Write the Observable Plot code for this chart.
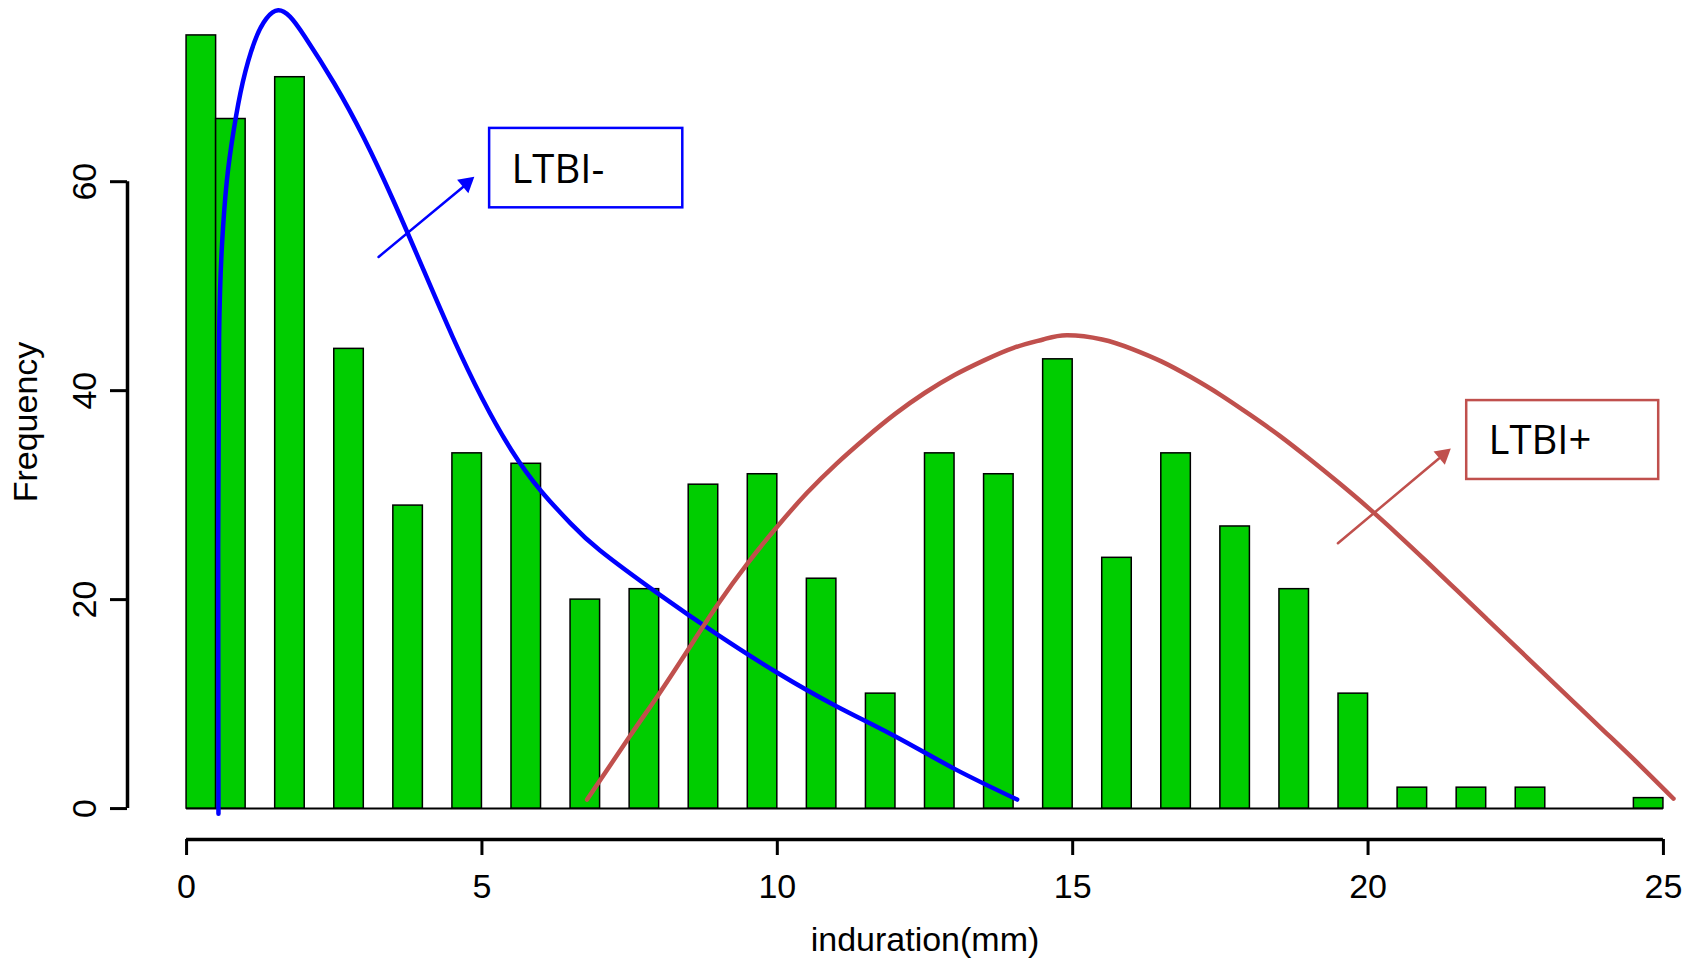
<!DOCTYPE html>
<html>
<head>
<meta charset="utf-8">
<script src="https://cdn.jsdelivr.net/npm/d3@7"></script>
<script src="https://cdn.jsdelivr.net/npm/@observablehq/plot@0.6"></script>
<style>
  html, body { margin: 0; padding: 0; background: #fff; }
</style>
</head>
<body>
<div id="chart"></div>
<script>
// Histogram: bins of width 0.5 mm from 0 to 25
const binWidth = 0.5;
const counts = [
  74, 66, 0, 70, 0, 44, 0, 29, 0, 34,
  0, 33, 0, 20, 0, 21, 0, 31, 0, 32,
  0, 22, 0, 11, 0, 34, 0, 32, 0, 43,
  0, 24, 0, 34, 0, 27, 0, 21, 0, 11,
  0, 2, 0, 2, 0, 2, 0, 0, 0, 1
];

// Fitted density curves (in frequency units)
const ltbiNegX = [0.54, 0.535, 0.55, 0.6, 0.68, 0.8, 0.95, 1.15, 1.35, 1.55, 1.75, 2.0, 2.5, 3.0, 3.5, 4.0, 4.5, 5.0, 5.5, 6.0, 6.5, 7.0, 8.0, 9.0, 10.0, 11.0, 12.0, 13.0, 14.06];
const ltbiNegY = [-0.5, 25, 45, 54, 60, 65, 69.5, 73.4, 75.6, 76.4, 75.8, 73.9, 69.4, 64.2, 58.2, 51.7, 45.2, 39.3, 34.3, 30.4, 27.3, 24.7, 20.5, 16.6, 13.0, 9.8, 6.9, 3.8, 0.86];
const ltbiPosX = [6.78, 7.5, 8.0, 8.5, 9.0, 9.5, 10.0, 10.5, 11.0, 11.5, 12.0, 12.5, 13.0, 13.5, 14.0, 14.5, 14.9, 15.5, 16.0, 16.5, 17.0, 17.5, 18.0, 18.5, 19.0, 19.5, 20.0, 20.5, 21.0, 21.5, 22.0, 22.5, 23.0, 23.5, 24.0, 24.5, 25.17];
const ltbiPosY = [0.86, 6.9, 11.0, 15.3, 19.6, 23.5, 27.0, 30.2, 33.0, 35.5, 37.8, 39.8, 41.5, 42.9, 44.1, 44.9, 45.3, 44.9, 44.0, 42.8, 41.3, 39.6, 37.7, 35.7, 33.5, 31.2, 28.8, 26.25, 23.6, 20.9, 18.2, 15.5, 12.8, 10.1, 7.4, 4.7, 0.95];

// Axis ticks
const xTicks = [0, 5, 10, 15, 20, 25];
const yTicks = [0, 20, 40, 60];

// Annotations (data coordinates)
const labels = ["LTBI-", "LTBI+"];
const labelColors = ["#0000FF", "#C0504D"];
const labelX = [5.50, 22.04];
const labelY = [59.9, 33.9];
const boxX1 = [5.13, 21.67];
const boxX2 = [8.40, 24.92];
const boxY1 = [57.5, 31.5];
const boxY2 = [65.1, 39.05];
const arrowX1 = [3.25, 19.49];
const arrowY1 = [52.8, 25.4];
const arrowX2 = [4.68, 21.20];
const arrowY2 = [59.5, 33.5];
const headX = [4.74, 21.27];
const headY = [59.85, 33.85];

const bins = counts.map((c, i) => ({x1: i * binWidth, x2: (i + 1) * binWidth, count: c}));
const neg = ltbiNegX.map((x, i) => ({x, y: ltbiNegY[i]}));
const pos = ltbiPosX.map((x, i) => ({x, y: ltbiPosY[i]}));
const ann = labels.map((t, i) => ({
  t, color: labelColors[i], lx: labelX[i], ly: labelY[i],
  bx1: boxX1[i], bx2: boxX2[i], by1: boxY1[i], by2: boxY2[i],
  ax1: arrowX1[i], ay1: arrowY1[i], ax2: arrowX2[i], ay2: arrowY2[i],
  hx: headX[i], hy: headY[i]
}));
const shafts = ann.flatMap((a, i) => [{x: a.ax1, y: a.ay1, k: i, c: a.color}, {x: a.ax2, y: a.ay2, k: i, c: a.color}]);

const chart = Plot.plot({
  width: 1698,
  height: 963,
  marginLeft: 127,
  marginRight: -24,
  marginTop: 4,
  marginBottom: 124,
  style: {fontFamily: "'Liberation Sans', Arial, sans-serif", fontSize: "34px", background: "#fff", color: "#000", overflow: "visible"},
  x: {domain: [-1, 26]},
  y: {domain: [-2.96, 76.96]},
  marks: [
    Plot.ruleY([0], {x1: 0, x2: counts.length * binWidth, stroke: "#000", strokeWidth: 2}),
    Plot.rectY(bins, {x1: "x1", x2: "x2", y: "count", fill: "#00CD00", stroke: "#000", strokeWidth: 1.5}),
    Plot.line(neg, {x: "x", y: "y", stroke: "#0000FF", strokeWidth: 4.5, curve: "natural"}),
    Plot.line(pos, {x: "x", y: "y", stroke: "#C0504D", strokeWidth: 4.5, curve: "natural"}),
    // axes (R style)
    Plot.ruleY([-2.96], {x1: xTicks[0], x2: xTicks[xTicks.length - 1], stroke: "#000", strokeWidth: 3.5}),
    Plot.ruleX([-1], {y1: yTicks[0], y2: yTicks[yTicks.length - 1], stroke: "#000", strokeWidth: 3.5}),
    Plot.axisX({ticks: xTicks, tickSize: 16, tickPadding: 18, strokeWidth: 3, fontSize: 34, label: null, anchor: "bottom"}),
    Plot.axisY({ticks: yTicks, tickSize: 17, tickPadding: 15, tickRotate: -90, strokeWidth: 3, fontSize: 34, label: null, anchor: "left"}),
    Plot.text(["induration(mm)"], {frameAnchor: "bottom", dy: 111, lineAnchor: "bottom", textAnchor: "middle", fontSize: 34}),
    Plot.text(["Frequency"], {frameAnchor: "left", dx: -91, rotate: -90, lineAnchor: "bottom", textAnchor: "middle", fontSize: 34}),
    // annotations
    Plot.rect(ann, {x1: "bx1", x2: "bx2", y1: "by1", y2: "by2", fill: "#fff", stroke: "color", strokeWidth: 2.5}),
    Plot.text(ann, {x: "lx", y: "ly", text: "t", textAnchor: "start", lineAnchor: "bottom", fontSize: 40, fontFamily: "'Open Sans', sans-serif", fill: "#000"}),
    Plot.line(shafts, {x: "x", y: "y", z: "k", stroke: "c", strokeWidth: 2.5}),
    Plot.dot(ann, {x: "hx", y: "hy", symbol: "triangle", r: 6.5, fill: "color", stroke: "none", rotate: 50})
  ]
});
document.getElementById("chart").appendChild(chart);
</script>
</body>
</html>
